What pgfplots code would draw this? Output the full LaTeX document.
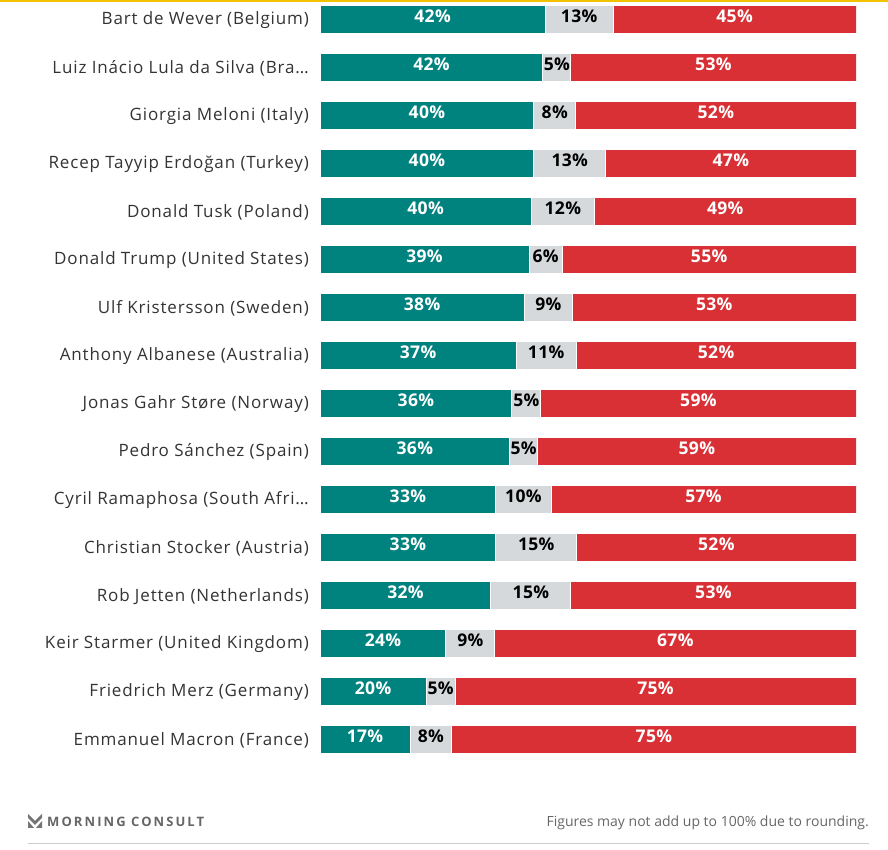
\documentclass[border=0pt]{standalone}
\usepackage{pgfplots}
\usepackage{pgfplotstable}
\usepackage{fontspec}
\setmainfont{Open Sans}
\pgfplotsset{compat=1.18}
\definecolor{teal}{HTML}{00827F}
\definecolor{lgray}{HTML}{D6D9DB}
\definecolor{bred}{HTML}{D93036}
\definecolor{txt}{HTML}{333333}
\definecolor{foot}{HTML}{666666}
\definecolor{gold}{HTML}{F2C200}

\pgfplotstableread[col sep=semicolon]{
y;name;t;g;r;tl;gl;rl
0;Bart de Wever (Belgium);42.0;12.7;45.3;42\%;13\%;45\%
1;Luiz Inácio Lula da Silva (Bra…;41.6;5.2;53.2;42\%;5\%;53\%
2;Giorgia Meloni (Italy);39.9;7.8;52.3;40\%;8\%;52\%
3;Recep Tayyip Erdoğan (Turkey);39.9;13.4;46.7;40\%;13\%;47\%
4;Donald Tusk (Poland);39.4;11.8;48.8;40\%;12\%;49\%
5;Donald Trump (United States);39.0;6.2;54.8;39\%;6\%;55\%
6;Ulf Kristersson (Sweden);38.1;9.0;52.9;38\%;9\%;53\%
7;Anthony Albanese (Australia);36.6;11.2;52.2;37\%;11\%;52\%
8;Jonas Gahr Støre (Norway);35.8;5.4;58.8;36\%;5\%;59\%
9;Pedro Sánchez (Spain);35.4;5.2;59.4;36\%;5\%;59\%
10;Cyril Ramaphosa (South Afri…;32.8;10.3;56.9;33\%;10\%;57\%
11;Christian Stocker (Austria);32.8;15.1;52.1;33\%;15\%;52\%
12;Rob Jetten (Netherlands);31.9;14.9;53.2;32\%;15\%;53\%
13;Keir Starmer (United Kingdom);23.5;9.1;67.4;24\%;9\%;67\%
14;Friedrich Merz (Germany);19.8;5.4;74.8;20\%;5\%;75\%
15;Emmanuel Macron (France);16.8;7.8;75.4;17\%;8\%;75\%
}\data

\begin{document}
\begin{tikzpicture}[x=1pt,y=1pt]
\useasboundingbox (0,0) rectangle (888,850);
\fill[gold] (0,848) rectangle (888,850);
\pgfplotsset{
  common/.style={
    at={(320pt,87pt)}, anchor=south west,
    scale only axis, width=536pt, height=763pt,
    xmin=0, xmax=100, ymin=-0.396, ymax=15.5, y dir=reverse,
    axis line style={draw=none}, tick style={draw=none},
    xtick=\empty, major tick length=0pt,
  }
}
\begin{axis}[common,
  xbar stacked, bar width=28pt,
  ytick={0,...,15},
  yticklabels from table={\data}{name},
  yticklabel style={font=\fontsize{17}{20}\selectfont\addfontfeatures{LetterSpace=5}, text=txt, anchor=east, inner sep=0pt, xshift=-11pt, yshift=-1.5pt},
]
\addplot[fill=teal, draw=white, line width=1pt] table[x=t, y=y] {\data};
\addplot[fill=lgray, draw=white, line width=1pt] table[x=g, y=y] {\data};
\addplot[fill=bred, draw=white, line width=1pt] table[x=r, y=y] {\data};
\end{axis}
\begin{axis}[common, ytick=\empty,
  nodes near coords, point meta=explicit symbolic,
  every node near coord/.style={anchor=center, inner sep=0pt, yshift=2.5pt, font=\bfseries\fontsize{17.5}{20}\selectfont\addfontfeatures{LetterSpace=2}},
]
\addplot[only marks, mark=none, every node near coord/.append style={text=white}] table[x expr=\thisrow{t}/2, y=y, meta=tl] {\data};
\addplot[only marks, mark=none, every node near coord/.append style={text=black}] table[x expr=\thisrow{t}+\thisrow{g}/2, y=y, meta=gl] {\data};
\addplot[only marks, mark=none, every node near coord/.append style={text=white}] table[x expr=\thisrow{t}+\thisrow{g}+\thisrow{r}/2, y=y, meta=rl] {\data};
\end{axis}
% footer
\fill[foot!90] (28,36) -- (35,29) -- (42,36) -- (42,32) -- (35,25) -- (28,32) -- cycle;
\fill[foot!90] (28,29) -- (28,22) -- (34,22) -- cycle;
\fill[foot!90] (42,29) -- (42,22) -- (36,22) -- cycle;
\node[anchor=west, inner sep=0pt, text=foot] at (47,28) {\fontsize{13}{15}\selectfont\bfseries\addfontfeatures{LetterSpace=16}MORNING CONSULT};
\node[anchor=east, inner sep=0pt, text=foot] at (869,27) {\fontsize{14}{16}\selectfont Figures may not add up to 100\% due to rounding.};
\draw[black!20, line width=1pt] (28,6) -- (869,6);
\end{tikzpicture}
\end{document}
